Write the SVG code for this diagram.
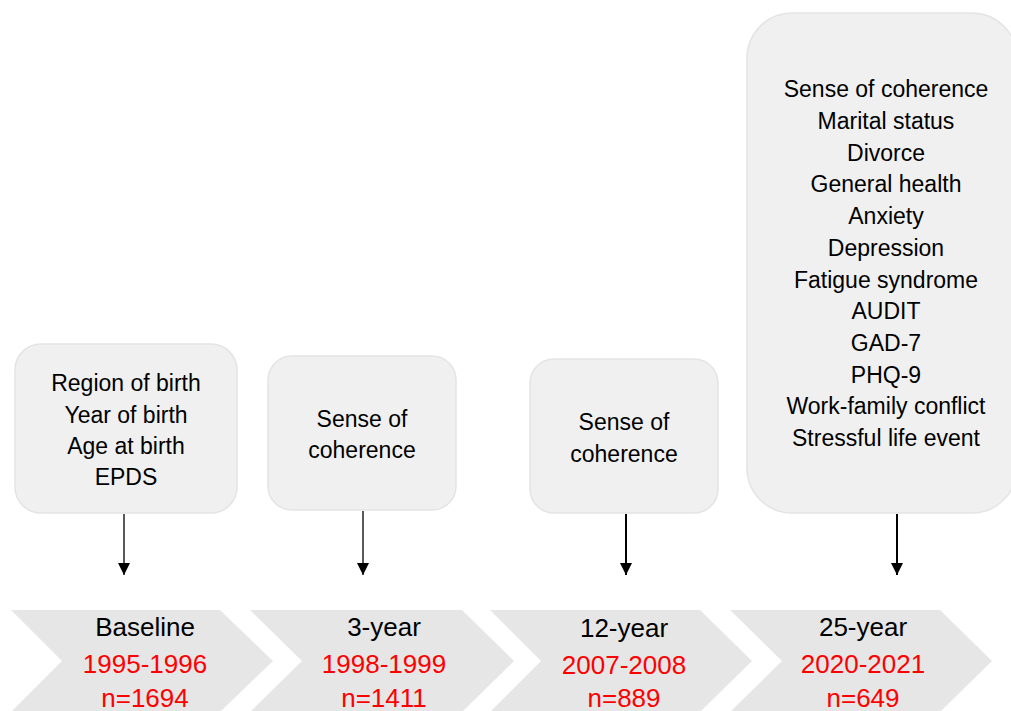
<svg xmlns="http://www.w3.org/2000/svg" width="1011" height="711" viewBox="0 0 1011 711">
<style>
.chev{fill:#e6e6e6;stroke:none}
.box{fill:#f0f0f0;stroke:#e4e4e4;stroke-width:1.5}
.t{font-family:"Liberation Sans",Arial,sans-serif;font-size:23px;fill:#000;text-anchor:middle}
.c{font-family:"Liberation Sans",Arial,sans-serif;font-size:26px;text-anchor:middle}
.k{fill:#000}
.r{fill:#ff0000}
.a1{stroke:#000;stroke-width:1.3;fill:none}
.a2{stroke:#000;stroke-width:2;fill:none}
</style>
<defs>
<marker id="ah" viewBox="0 0 12 12" refX="12" refY="6" markerWidth="12" markerHeight="12" markerUnits="userSpaceOnUse" orient="auto">
<path d="M0,0 L12,6 L0,12 Z" fill="#000"/>
</marker>
</defs>
<rect width="1011" height="711" fill="#ffffff"/>
<g id="timeline">
<g id="chev-baseline">
<polygon class="chev" points="11,610 220,610 273,661 220,712 11,712 62,661"/>
<text class="c k" x="145" y="636">Baseline</text>
<text class="c r" x="145" y="673">1995-1996</text>
<text class="c r" x="145" y="707">n=1694</text>
</g>
<g id="chev-3year">
<polygon class="chev" points="250,610 462,610 514,661 462,712 250,712 302,661"/>
<text class="c k" x="384" y="636">3-year</text>
<text class="c r" x="384" y="673">1998-1999</text>
<text class="c r" x="384" y="707">n=1411</text>
</g>
<g id="chev-12year">
<polygon class="chev" points="490,610 700,610 752,661 700,712 490,712 541,661"/>
<text class="c k" x="624" y="637">12-year</text>
<text class="c r" x="624" y="674">2007-2008</text>
<text class="c r" x="624" y="707">n=889</text>
</g>
<g id="chev-25year">
<polygon class="chev" points="730,610 940,610 992,661 940,712 730,712 782,661"/>
<text class="c k" x="863" y="636">25-year</text>
<text class="c r" x="863" y="673">2020-2021</text>
<text class="c r" x="863" y="707">n=649</text>
</g>
</g>
<g id="box-baseline">
<rect class="box" x="15" y="344" width="222" height="169" rx="26"/>
<text class="t" x="126" y="391">Region of birth</text>
<text class="t" x="126" y="423">Year of birth</text>
<text class="t" x="126" y="454">Age at birth</text>
<text class="t" x="126" y="485">EPDS</text>
</g>
<g id="box-3year">
<rect class="box" x="268" y="356" width="188" height="154" rx="24"/>
<text class="t" x="362" y="427">Sense of</text>
<text class="t" x="362" y="458">coherence</text>
</g>
<g id="box-12year">
<rect class="box" x="530" y="359" width="188" height="154" rx="24"/>
<text class="t" x="624" y="430">Sense of</text>
<text class="t" x="624" y="462">coherence</text>
</g>
<g id="box-25year">
<rect class="box" x="747" y="13" width="270" height="500" rx="45"/>
<text class="t" x="886" y="97">Sense of coherence</text>
<text class="t" x="886" y="129">Marital status</text>
<text class="t" x="886" y="161">Divorce</text>
<text class="t" x="886" y="192">General health</text>
<text class="t" x="886" y="224">Anxiety</text>
<text class="t" x="886" y="256">Depression</text>
<text class="t" x="886" y="288">Fatigue syndrome</text>
<text class="t" x="886" y="319">AUDIT</text>
<text class="t" x="886" y="351">GAD-7</text>
<text class="t" x="886" y="383">PHQ-9</text>
<text class="t" x="886" y="414">Work-family conflict</text>
<text class="t" x="886" y="446">Stressful life event</text>
</g>
<g id="connectors">
<line class="a1" x1="124" y1="514" x2="124" y2="575" marker-end="url(#ah)"/>
<line class="a1" x1="363" y1="511" x2="363" y2="575" marker-end="url(#ah)"/>
<line class="a2" x1="626" y1="514" x2="626" y2="575" marker-end="url(#ah)"/>
<line class="a2" x1="897" y1="514" x2="897" y2="575" marker-end="url(#ah)"/>
</g>
</svg>
